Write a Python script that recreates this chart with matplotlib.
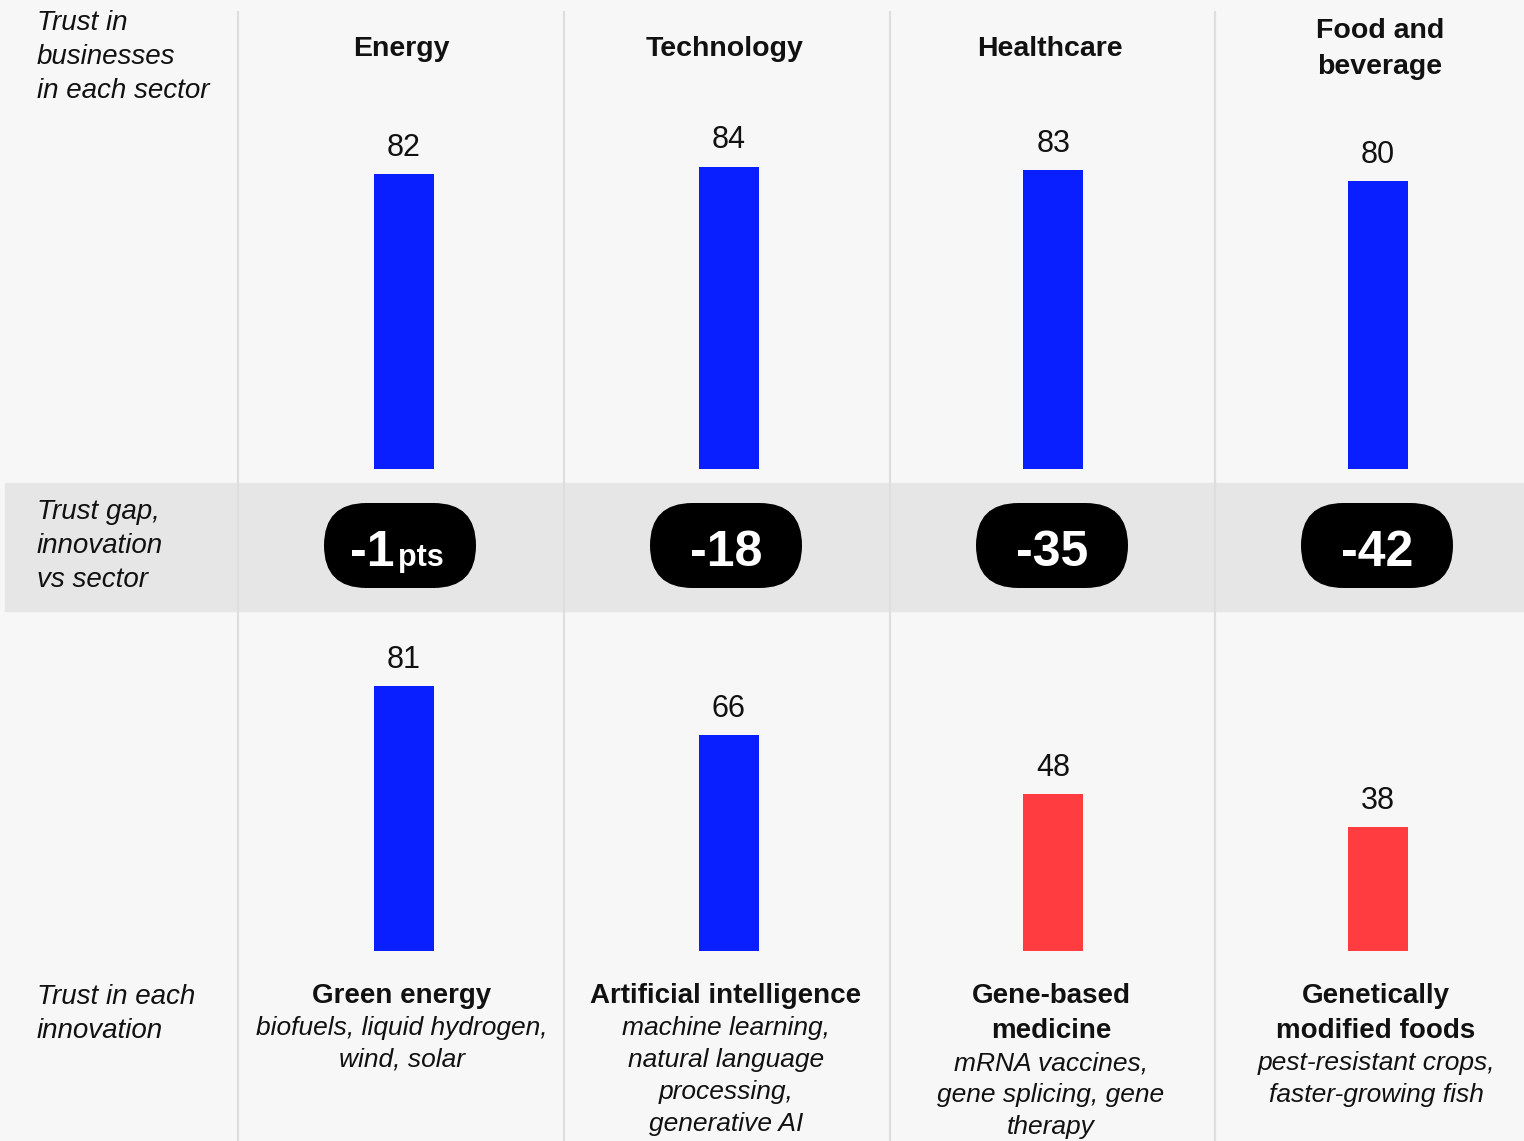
import numpy as np
import matplotlib
matplotlib.use("Agg")
import matplotlib.pyplot as plt
from matplotlib.patches import FancyBboxPatch, Rectangle

plt.rcParams['font.family'] = ['Liberation Sans', 'DejaVu Sans']

# data
sectors = ["Energy", "Technology", "Healthcare", "Food and\nbeverage"]
sector_trust = [82, 84, 83, 80]
innovations = ["Green energy", "Artificial intelligence", "Gene-based\nmedicine", "Genetically\nmodified foods"]
innovation_examples = ["biofuels, liquid hydrogen,\nwind, solar",
                       "machine learning,\nnatural language\nprocessing,\ngenerative AI",
                       "mRNA vaccines,\ngene splicing, gene\ntherapy",
                       "pest-resistant crops,\nfaster-growing fish"]
innovation_trust = [81, 66, 48, 38]
row_labels = ["Trust in\nbusinesses\nin each sector", "Trust gap,\ninnovation\nvs sector", "Trust in each\ninnovation"]

gaps = [i - s for i, s in zip(innovation_trust, sector_trust)]
BLUE = '#0a1fff'
RED = '#ff3d41'
inno_colors = [BLUE if g > -30 else RED for g in gaps]

W, H = 1524, 1141
fig = plt.figure(figsize=(W / 100, H / 100), dpi=100)
fig.patch.set_facecolor('#f7f7f7')

# overlay in pixel coordinates for the background, pills and text
ov = fig.add_axes([0, 0, 1, 1])
ov.set_xlim(0, W)
ov.set_ylim(H, 0)
ov.axis('off')

ov.add_patch(Rectangle((5, 483), W - 5, 128, color='#e6e6e6', zorder=0))
for xd in [238, 564, 890, 1215]:
    ov.plot([xd, xd], [12, H], color='#dedede', lw=1.6, zorder=1)

col_x = [404, 728, 1053, 1378]
pill_x = [400, 726, 1052, 1377]
txt = '#111111'

# left row labels
for lab, y0 in zip(row_labels, [22, 511, 996]):
    for k, line in enumerate(lab.split('\n')):
        ov.text(37, y0 + 1 + k * 34, line, fontsize=20, style='italic', color=txt,
                ha='left', va='center')

# sector headers
for cx, s in zip(col_x, sectors):
    lines = s.split('\n')
    if len(lines) == 1:
        ov.text(cx - 3, 49, s, fontsize=20.5, weight='bold', color=txt, ha='center', va='center')
    else:
        for k, line in enumerate(lines):
            ov.text(cx + 2, 31 + k * 36, line, fontsize=20.5, weight='bold', color=txt,
                    ha='center', va='center')

# gap pills
for i, (px, g) in enumerate(zip(pill_x, gaps)):
    ov.add_patch(FancyBboxPatch((px - 76, 503), 152, 85,
                                boxstyle="round,pad=0,rounding_size=42.5",
                                fc='black', ec='none', zorder=3))
    if i == 0:
        ov.text(px - 5, 566, str(g), fontsize=36, weight='bold', color='white',
                ha='right', va='baseline', zorder=4)
        ov.text(px - 2, 566, "pts", fontsize=22, weight='bold', color='white',
                ha='left', va='baseline', zorder=4)
    else:
        ov.text(px, 566, str(g), fontsize=36, weight='bold', color='white',
                ha='center', va='baseline', zorder=4)

# bottom innovation texts
for cx, name, ex in zip(col_x, innovations, innovation_examples):
    nl = name.split('\n')
    for k, line in enumerate(nl):
        ov.text(cx - 2, 996 + k * 35, line, fontsize=20, weight='bold', color=txt,
                ha='center', va='center')
    y0 = 996 + (len(nl) - 1) * 35 + 32
    for k, line in enumerate(ex.split('\n')):
        ov.text(cx - 2, y0 + k * 32, line, fontsize=19, style='italic', color=txt,
                ha='center', va='center')

# bar axes
xl = (-col_x[0] / 324.7, (W - col_x[0]) / 324.7)
xs = np.arange(len(sectors))


def bar_axes(bottom_px, top_px, px_per_unit):
    ax = fig.add_axes([0, (H - bottom_px) / H, 1, (bottom_px - top_px) / H])
    ax.set_xlim(*xl)
    ax.set_ylim(0, (bottom_px - top_px) / px_per_unit)
    ax.axis('off')
    ax.patch.set_alpha(0)
    return ax


ax1 = bar_axes(469, 100, 3.6)
ax1.bar(xs, sector_trust, width=60 / 324.7, color=BLUE)
for x, v in zip(xs, sector_trust):
    ax1.annotate(str(v), (x, v), xytext=(0, 8), textcoords='offset points',
                 ha='center', va='bottom', fontsize=22, color=txt)

ax2 = bar_axes(951, 621, 3.27)
ax2.bar(xs, innovation_trust, width=60 / 324.7, color=inno_colors)
for x, v in zip(xs, innovation_trust):
    ax2.annotate(str(v), (x, v), xytext=(0, 8), textcoords='offset points',
                 ha='center', va='bottom', fontsize=22, color=txt)

fig.savefig('out.png', dpi=100, facecolor=fig.get_facecolor())
